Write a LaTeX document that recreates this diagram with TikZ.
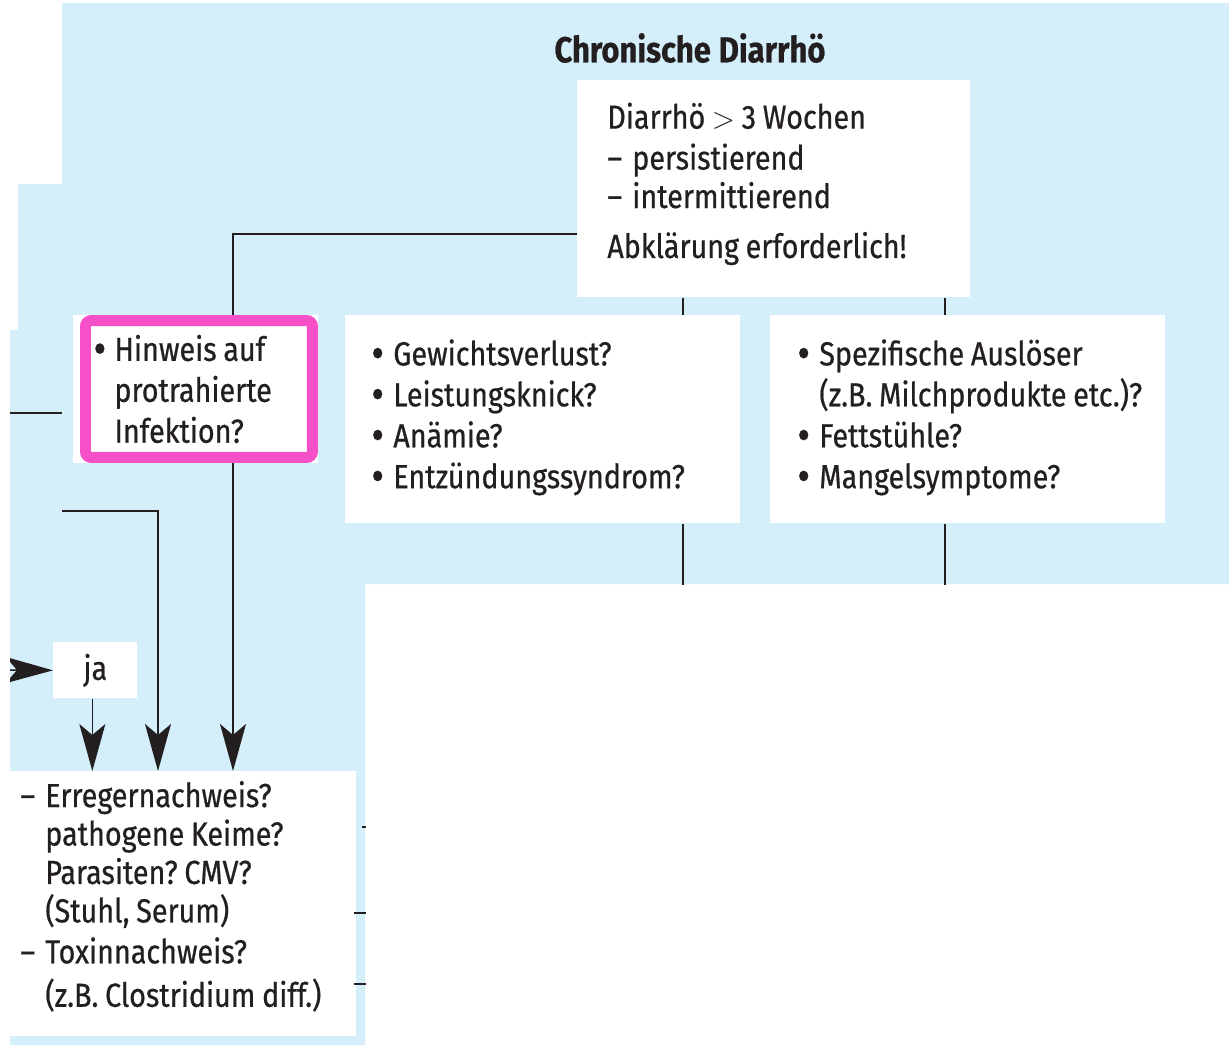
\documentclass[tikz,border=0pt]{standalone}
\usepackage{fontspec}
\setmainfont{Fira Sans}[FakeStretch=0.86, RawFeature={embolden=0.6}]
\usetikzlibrary{arrows.meta,positioning}
\definecolor{bgblue}{RGB}{212,238,250}
\definecolor{hipink}{RGB}{245,80,200}
\definecolor{ink}{RGB}{35,31,32}
\newcommand{\bdot}{\raisebox{-0.1em}{\fontsize{26}{0}\selectfont\textbullet}}
\newcommand{\bul}{\makebox[0.44cm][l]{\bdot}}
\newcommand{\dsh}{\makebox[0.5cm][l]{--}}
\newcommand{\hng}[1]{\hspace*{#1}}
\frenchspacing

\begin{document}
\begin{tikzpicture}[x=0.02cm,y=-0.02cm,
  txt/.style={font={\fontsize{19}{23.3}\selectfont}, text=ink},
  box/.style={txt, fill=white, align=left, anchor=north west, inner ysep=0pt,
    execute at begin node={\spaceskip=0.2em plus 0.1em\relax}},
  conn/.style={draw=ink, line width=0.9pt},
  arr/.style={conn, -{Stealth[length=0.94cm,width=0.52cm,inset=0.22cm]}}]
\useasboundingbox (0,0) rectangle (1229,1045);
% background
\fill[bgblue] (62,3) -- (1229,3) -- (1229,584) -- (365,584) -- (365,1045)
  -- (10,1045) -- (10,330) -- (18,330) -- (18,184) -- (62,184) -- cycle;

\node[txt, font={\fontsize{20.5}{24}\selectfont\bfseries\spaceskip=0.22em\relax}] (title) at (690,48) {Chronische Diarrhö};

% boxes
\node[box, inner xsep=0.6cm, text width=6.66cm, minimum height=4.34cm] (top) at (577,80)
  {Diarrhö ${>}$ 3 Wochen\\ \dsh persistierend\\[-0.05cm] \dsh intermittierend\\[0.18cm] Abklärung erforderlich!\par\vspace{0.2cm}};
\fill[white] (73,315) rectangle (318,463);
\node[box, draw=hipink, line width=0.22cm, rounded corners=0.12cm, inner xsep=0.16cm,
  text width=4.22cm, minimum height=2.74cm] (hinweis) at (80,315)
  {\makebox[0.42cm][l]{\bdot}Hinweis auf\\ \hng{0.42cm}protrahierte\\ \hng{0.42cm}Infektion?};
\node[box, inner xsep=0.52cm, text width=6.86cm, minimum height=4.16cm] (mid) at (345,315)
  {\bul Gewichtsverlust?\\ \bul Leistungsknick?\\ \bul Anämie?\\ \bul Entzündungssyndrom?\par\vspace{0.08cm}};
\node[box, inner xsep=0.54cm, text width=6.82cm, minimum height=4.16cm] (rgt) at (770,315)
  {\bul Spezifische Auslöser\\ \hng{0.44cm}\mbox{(z.B. Milchprodukte etc.)?}\\ \bul Fettstühle?\\ \bul Mangelsymptome?\par\vspace{0.08cm}};
\node[box, align=center, inner xsep=0pt, text width=1.68cm, minimum height=1.12cm] (ja) at (53,642) {ja};
\node[box, inner xsep=0.2cm, text width=6.52cm, minimum height=5.3cm] (bottom) at (10,771)
  {\dsh Erregernachweis?\\[-0.05cm] \hng{0.5cm}pathogene Keime?\\[-0.05cm] \hng{0.5cm}Parasiten? CMV?\\[-0.05cm]
   \hng{0.5cm}(Stuhl, Serum)\\ \dsh Toxinnachweis?\\[0.05cm] \hng{0.5cm}(z.B. Clostridium diff.)\par\vspace{0.3cm}};

% connectors
\coordinate (hx) at (233,0);
\coordinate (kx) at (158,0);
\coordinate (mx) at (683,0);
\coordinate (rx) at (945,0);
\coordinate (jx) at ([xshift=-0.06cm]ja.south);
\coordinate (topl) at (577,234);
\coordinate (kin) at (62,511);
\coordinate (hin) at (10,413);
\coordinate (hout) at (62,413);
\draw[conn] (topl) -| (hinweis.north -| hx);
\draw[conn] (top.south -| mx) -- (mid.north -| mx);
\draw[conn] (top.south -| rx) -- (rgt.north -| rx);
\draw[conn] (mid.south -| mx) -- ++(0,61);
\draw[conn] (rgt.south -| rx) -- ++(0,61);
\draw[conn] (hin) -- (hout);
\draw[arr] (hinweis.south -| hx) -- (bottom.north -| hx);
\draw[arr] (kin) -| (bottom.north -| kx);
\draw[arr] (jx) -- (bottom.north -| jx);
\begin{scope}
  \clip (10,600) rectangle (60,740);
  \coordinate (jain) at (0,670);
  \draw[arr] (jain) -- (ja.west);
\end{scope}
\draw[conn] (bottom.east |- 0,827) ++(5,0) -- ++(4,0);
\draw[conn] (bottom.east |- 0,913) ++(-3,0) -- ++(12,0);
\draw[conn] (bottom.east |- 0,984) ++(-3,0) -- ++(12,0);
\end{tikzpicture}
\end{document}
